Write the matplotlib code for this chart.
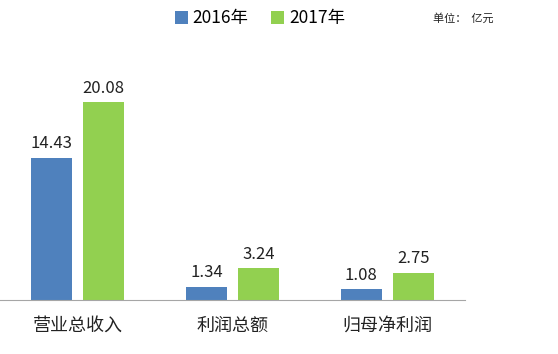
import matplotlib
matplotlib.use("Agg")
from matplotlib import pyplot as plt
import numpy as np

plt.rcParams['font.family'] = ['Noto Sans CJK SC', 'DejaVu Sans']

categories = ["营业总收入", "利润总额", "归母净利润"]
values_2016 = [14.43, 1.34, 1.08]
values_2017 = [20.08, 3.24, 2.75]
series_names = ["2016年", "2017年"]

blue = "#4F81BD"
green = "#92D050"

fig = plt.figure(figsize=(5.58, 3.54), dpi=100)
ax = fig.add_axes([0.0, 0.1525, 0.833, 0.735])

x = np.arange(len(categories))
w = 0.268
off = 0.168
b1 = ax.bar(x - off, values_2016, w, color=blue, label=series_names[0])
b2 = ax.bar(x + off, values_2017, w, color=green, label=series_names[1])

for bars in (b1, b2):
    for rect in bars:
        h = rect.get_height()
        ax.annotate(f"{h:.2f}", (rect.get_x() + rect.get_width() / 2, h),
                    xytext=(0, 4), textcoords="offset points",
                    ha="center", va="bottom", fontsize=12, color="#222222")

ax.set_xlim(-0.5, 2.5)
ax.set_ylim(0, 26.4)
ax.set_xticks(x)
ax.set_xticklabels(categories, fontsize=13, color="#222222")
ax.tick_params(axis="x", length=0, pad=12)
ax.set_yticks([])
for s in ("top", "right", "left"):
    ax.spines[s].set_visible(False)
ax.spines["bottom"].set_color("#A6A6A6")

fig.legend(handles=[b1, b2], loc="center", bbox_to_anchor=(0.466, 0.948),
           ncol=2, frameon=False, fontsize=12.5, handlelength=0.75,
           handleheight=0.75, handletextpad=0.3, columnspacing=1.3)
fig.text(0.776, 0.948, "单位：  亿元", fontsize=8, va="center", color="#222222")

fig.savefig("out.png", dpi=100)
